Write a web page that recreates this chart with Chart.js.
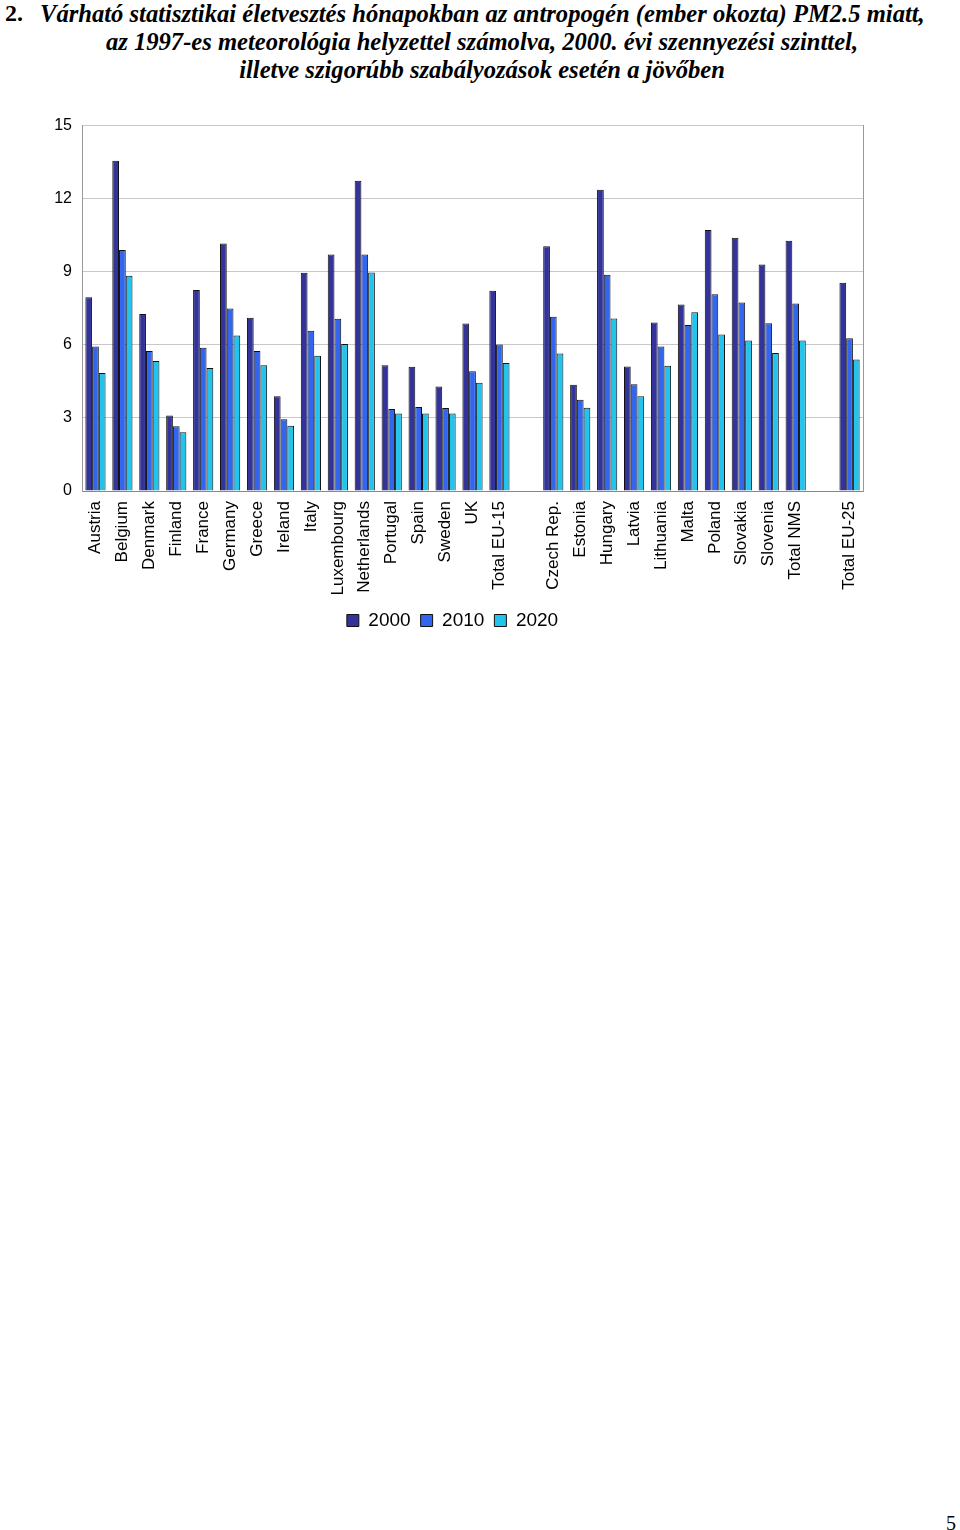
<!DOCTYPE html>
<html>
<head>
<meta charset="utf-8">
<script src="https://cdn.jsdelivr.net/npm/chart.js@4"></script>
<style>
  body { margin: 0; background: #fff; width: 960px; height: 1530px; position: relative; overflow: hidden; }
  .title { position: absolute; font-family: "Liberation Serif", "Times New Roman", serif; font-weight: bold; font-style: italic; font-size: 24.6px; color: #000; white-space: nowrap; }
  #num { position: absolute; left: 5px; top: 0px; font-family: "Liberation Serif", serif; font-weight: bold; font-size: 24px; }
  #t1 { left: 40px; top: 0px; }
  #t2 { left: 0; width: 964px; text-align: center; top: 28px; }
  #t3 { left: 0; width: 964px; text-align: center; top: 56px; }
  #chartBox { position: absolute; left: 0; top: 106px; width: 960px; height: 534px; }
  #page { position: absolute; left: 946px; top: 1512px; font-family: "Liberation Serif", serif; font-size: 20px; }
</style>
</head>
<body>
<div id="num">2.</div>
<div class="title" id="t1">Várható statisztikai életvesztés hónapokban az antropogén (ember okozta) PM2.5 miatt,</div>
<div class="title" id="t2">az 1997-es meteorológia helyzettel számolva, 2000. évi szennyezési szinttel,</div>
<div class="title" id="t3">illetve szigorúbb szabályozások esetén a jövőben</div>
<div id="chartBox"><canvas id="lifeChart"></canvas></div>
<div id="page">5</div>

<script>
// Countries (empty strings are the gaps between groups)
const countries = [
    "Austria", "Belgium", "Denmark", "Finland", "France", "Germany", "Greece",
    "Ireland", "Italy", "Luxembourg", "Netherlands", "Portugal", "Spain", "Sweden",
    "UK", "Total EU-15", "", "Czech Rep.", "Estonia", "Hungary", "Latvia",
    "Lithuania", "Malta", "Poland", "Slovakia", "Slovenia", "Total NMS", "", "Total EU-25"
];

// Months of life lost
const months2000 = [7.95, 13.56, 7.27, 3.10, 8.25, 10.16, 7.11, 3.89, 8.96, 9.71, 12.74, 5.16, 5.10, 4.29, 6.88, 8.22, null,
    10.05, 4.36, 12.37, 5.11, 6.92, 7.66, 10.71, 10.40, 9.30, 10.27, null, 8.55];
const months2010 = [5.93, 9.89, 5.75, 2.66, 5.88, 7.49, 5.75, 2.95, 6.58, 7.07, 9.71, 3.37, 3.45, 3.41, 4.92, 6.01, null,
    7.15, 3.75, 8.88, 4.38, 5.93, 6.81, 8.08, 7.74, 6.89, 7.70, null, 6.27];
const months2020 = [4.84, 8.84, 5.34, 2.41, 5.05, 6.38, 5.16, 2.68, 5.55, 6.03, 8.97, 3.18, 3.18, 3.18, 4.44, 5.25, null,
    5.64, 3.42, 7.08, 3.89, 5.14, 7.34, 6.42, 6.18, 5.67, 6.18, null, 5.40];

const yearLabels = ["2000", "2010", "2020"];
const yearColors = ["#333399", "#3366EE", "#22C4EE"];
const yTicks = [0, 3, 6, 9, 12, 15];

const seriesList = [months2000, months2010, months2020];

const ctx = document.getElementById("lifeChart");

new Chart(ctx, {
    type: "bar",
    data: {
        labels: countries,
        datasets: seriesList.map((values, i) => ({
            label: yearLabels[i],
            data: values,
            backgroundColor: yearColors[i],
            borderColor: "#111",
            borderWidth: 1,
            categoryPercentage: 0.75,
            barPercentage: 1.0,
        })),
    },
    options: {
        responsive: true,
        maintainAspectRatio: false,
        animation: false,
        layout: { padding: { left: 42, right: 97, top: 0, bottom: 0 } },
        plugins: {
            tooltip: { enabled: false },
            legend: {
                position: "bottom",
                labels: {
                    boxWidth: 12,
                    boxHeight: 12,
                    padding: 10,
                    color: "#000",
                    font: { family: "Liberation Sans, Arial, sans-serif", size: 19 },
                },
            },
        },
        scales: {
            x: {
                grid: { display: false },
                border: { display: true, color: "#888", width: 1 },
                ticks: {
                    autoSkip: false,
                    minRotation: 90,
                    maxRotation: 90,
                    padding: 2,
                    color: "#000",
                    font: { family: "Liberation Sans, Arial, sans-serif", size: 17 },
                },
                afterFit: (scale) => { scale.height = 110; },
            },
            y: {
                min: 0,
                max: 15,
                afterBuildTicks: (scale) => { scale.ticks = yTicks.map(v => ({ value: v })); },
                grid: { color: "#c8c8c8", lineWidth: 1, drawTicks: false },
                border: { display: true, color: "#999", width: 1 },
                ticks: {
                    padding: 10,
                    color: "#000",
                    font: { family: "Liberation Sans, Arial, sans-serif", size: 16 },
                },
                afterFit: (scale) => { scale.width = 40; },
            },
            yRight: {
                position: "right",
                min: 0,
                max: 15,
                grid: { display: false, drawTicks: false },
                border: { display: true, color: "#999", width: 1 },
                ticks: { display: false },
                afterFit: (scale) => { scale.width = 0; },
            },
        },
    },
});
</script>
</body>
</html>
